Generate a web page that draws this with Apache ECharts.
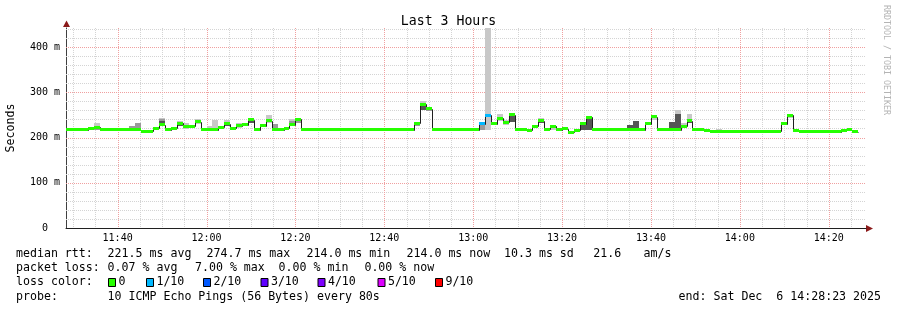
<!DOCTYPE html>
<html><head><meta charset="utf-8">
<script src="https://cdn.jsdelivr.net/npm/echarts@6/dist/echarts.min.js"></script>
<style>html,body{margin:0;padding:0;background:#fff}#c{width:897px;height:310px}</style>
</head><body><div id="c"></div>
<script>
// ---------------- data ----------------
const titleText = 'Last 3 Hours';
const yAxisName = 'Seconds';
const axisStart = '11:28:23';
const axisEnd = '14:28:23';
const xTickLabels = ['11:40','12:00','12:20','12:40','13:00','13:20','13:40','14:00','14:20'];
const yTickValues = [0, 100, 200, 300, 400];
const yMaxMs = 442;
const stepStart = '11:28:00';
const stepSeconds = 80;
const medianMs = [
  217,217,217,217,220,223,217,217,217,217,
  217,217,217,214,214,220,228,217,221,232,
  225,225,235,217,217,217,223,230,220,226,
  228,239,217,226,237,217,217,220,228,240,
  217,217,217,217,217,217,217,217,217,217,
  217,217,217,217,217,217,217,217,217,232,
  274,263,217,217,217,217,217,217,217,217,
  230,249,230,243,234,250,217,217,216,225,
  237,218,225,217,219,212,216,230,245,217,
  217,217,217,217,217,218,217,217,230,246,
  217,217,217,217,225,237,217,217,216,214,
  214,214,214,214,214,214,214,214,214,214,
  214,230,249,216,213,213,213,213,213,213,
  213,216,217,213
];
const lossSteps = [70, 71];
const lossTenths = [1, 1];
// smoke bands: [step index, low ms, high ms]
const smokeLight = [
  [4,217,223],[5,217,231],[15,217,224],[16,236,244],[19,232,237],[20,219,231],[22,229,240],
  [24,217,225],[25,217,239],[27,225,238],[29,220,232],[31,232,244],[34,232,249],[38,232,241],
  [39,233,242],[60,270,280],[71,217,441],[73,236,251],[74,228,238],[80,236,244],[82,217,227],
  [84,217,224],[99,238,249],[103,245,261],[104,220,232],[105,240,251],[110,214,218],[122,244,252]
];
const smokeMid = [
  [5,217,226],[11,217,225],[12,217,233],[16,230,240],[20,221,228],[35,217,230],[38,228,236],
  [39,233,240],[59,226,234],[61,258,266],[70,217,232],[74,229,236]
];
const smokeDark = [
  [16,230,236],[19,226,232],[27,226,232],[31,233,239],[60,260,270],[61,260,264],[71,245,253],
  [75,235,252],[79,222,227],[80,232,238],[87,217,230],[88,217,246],[95,217,228],[96,217,237],
  [102,217,235],[103,217,253],[104,222,228],[105,232,240]
];
const lossLegendLabels = ['0','1/10','2/10','3/10','4/10','5/10','9/10'];
const lossColors = ['#26ff00','#00b8ff','#0059ff','#5e00ff','#7e00ff','#dd00ff','#ff0000'];
const lossColorTenths = [0,1,2,3,4,5,9];
const rttRow = ['median rtt:','221.5 ms avg','274.7 ms max','214.0 ms min','214.0 ms now','10.3 ms sd','21.6','am/s'];
const lossRow = ['packet loss:','0.07 % avg','7.00 % max','0.00 % min','0.00 % now'];
const lossColorTitle = 'loss color:';
const probeRow = ['probe:','10 ICMP Echo Pings (56 Bytes) every 80s'];
const endText = 'end: Sat Dec  6 14:28:23 2025';
const watermark = 'RRDTOOL / TOBI OETIKER';

// ---------------- helpers ----------------
function toSec(s){const p=s.split(':').map(Number);return p[0]*3600+p[1]*60+(p[2]||0);}
function fmtHM(v){const h=Math.floor(v/3600),m=Math.round((v%3600)/60);return String(h).padStart(2,'0')+':'+String(m).padStart(2,'0');}
const xMin = toSec(axisStart), xMax = toSec(axisEnd);
const t0 = toSec(stepStart);
const majorX = xTickLabels.map(toSec);
const minorX = [];
for (let v = Math.ceil(xMin/300)*300; v < xMax; v += 300) if (majorX.indexOf(v) < 0) minorX.push(v);
const minorY = [];
for (let v = 20; v < yMaxMs; v += 20) if (yTickValues.indexOf(v) < 0) minorY.push(v);
const majorY = yTickValues.filter(v => v > 0);

function lossOf(i){const k=lossSteps.indexOf(i);return k<0?0:lossTenths[k];}
function colorOfLoss(l){const k=lossColorTenths.indexOf(l);return lossColors[k<0?lossColors.length-1:k];}
const stepItems = medianMs.map((v,i)=>[t0+i*stepSeconds, v, i>0?medianMs[i-1]:v, lossOf(i)]);
function smokeItems(arr){return arr.map(a=>[t0+a[0]*stepSeconds, a[1], a[2]]);}

const FONT = 'DejaVu Sans Mono';
const crisp = v => Math.round(v) + 0.5;

function vGrid(color){
  return function(params, api){
    const a = api.coord([api.value(0), 0]), b = api.coord([api.value(0), yMaxMs]);
    const x = crisp(a[0]);
    return {type:'line', shape:{x1:x,y1:Math.round(b[1]),x2:x,y2:Math.round(a[1])}, style:{stroke:color,lineWidth:1,lineDash:[1,1]}};
  };
}
function hGrid(color){
  return function(params, api){
    const a = api.coord([xMin, api.value(1)]), b = api.coord([xMax, api.value(1)]);
    const y = crisp(a[1]);
    return {type:'line', shape:{x1:Math.round(a[0]),y1:y,x2:Math.round(b[0]),y2:y}, style:{stroke:color,lineWidth:1,lineDash:[1,1]}};
  };
}
function smokeRender(color){
  return function(params, api){
    const t = api.value(0);
    const a = api.coord([t, api.value(2)]), b = api.coord([t+stepSeconds, api.value(1)]);
    const x1 = Math.round(a[0]), x2 = Math.round(b[0]);
    const y1 = Math.round(a[1]), y2 = Math.round(b[1]);
    return {type:'rect', shape:{x:x1,y:y1,width:x2-x1,height:Math.max(1,y2-y1)}, style:{fill:color}};
  };
}

const grid = {left:66, top:28, width:800, height:200, containLabel:false, outerBoundsMode:'none'};

const series = [
  {type:'custom', name:'gridMinorX', z:1, silent:true, clip:true, data:minorX.map(v=>[v,0]), renderItem:vGrid('#d4d4d4')},
  {type:'custom', name:'gridMinorY', z:1, silent:true, clip:false, data:minorY.map(v=>[xMin,v]), renderItem:hGrid('#d4d4d4')},
  {type:'custom', name:'gridMajorX', z:1, silent:true, clip:true, data:majorX.map(v=>[v,0]), renderItem:vGrid('#f0a0a0')},
  {type:'custom', name:'gridMajorY', z:1, silent:true, clip:false, data:majorY.map(v=>[xMin,v]), renderItem:hGrid('#f0a0a0')},
  {type:'custom', name:'smokeLight', z:2, silent:true, clip:true, data:smokeItems(smokeLight), renderItem:smokeRender('#c8c8c8')},
  {type:'custom', name:'smokeMid', z:3, silent:true, clip:true, data:smokeItems(smokeMid), renderItem:smokeRender('#9a9a9a')},
  {type:'custom', name:'smokeDark', z:4, silent:true, clip:true, data:smokeItems(smokeDark), renderItem:smokeRender('#555555')},
  {type:'custom', name:'median', z:5, silent:true, clip:true, data:stepItems, renderItem:function(params, api){
    const t = api.value(0), v = api.value(1), pv = api.value(2);
    const a = api.coord([t, pv]), b = api.coord([t, v]), c = api.coord([t+stepSeconds, v]);
    const X = crisp(a[0]), X2 = crisp(c[0]);
    return {type:'polyline', shape:{points:[[X,crisp(a[1])],[X,crisp(b[1])],[X2,crisp(b[1])]]}, style:{stroke:'#202020',lineWidth:1,fill:null}};
  }},
  {type:'custom', name:'loss', z:6, silent:true, clip:true, data:stepItems, renderItem:function(params, api){
    const t = api.value(0), v = api.value(1), l = api.value(3);
    const b = api.coord([t, v]), c = api.coord([t+stepSeconds, v]);
    const x1 = Math.round(b[0]), x2 = Math.round(c[0]);
    return {type:'rect', shape:{x:x1, y:Math.round(b[1]-1.5), width:x2-x1, height:3}, style:{fill:colorOfLoss(l)}};
  }}
];

// ---------------- legend graphics ----------------
const graphic = [];
function txt(x, y, s, size, color, extra){
  const o = {type:'text', x:x, y:y, silent:true, style:Object.assign({text:s, fontSize:size, fontFamily:FONT, fill:color||'#000',
    textAlign:'left', textVerticalAlign:'middle', align:'left', verticalAlign:'middle'}, extra||{})};
  graphic.push(o); return o;
}
const rttX = [16, 107.6, 206.5, 306.5, 406.5, 504, 593.2, 643.6];
rttRow.forEach((s,i)=>txt(rttX[i], 254, s, 11.6));
const lossX = [16, 107.6, 195, 278.6, 364.4];
lossRow.forEach((s,i)=>txt(lossX[i], 268, s, 11.6));
txt(16, 282, lossColorTitle, 11.6);
const boxX = [108, 146, 203, 260.5, 317.5, 377.5, 435];
lossLegendLabels.forEach((s,i)=>{
  graphic.push({type:'rect', silent:true, shape:{x:boxX[i]+0.5, y:278.5, width:7, height:8}, style:{fill:lossColors[i], stroke:'#000', lineWidth:1}});
  txt(boxX[i]+10.4, 282, s, 11.6);
});
txt(16, 296.5, probeRow[0], 11.6);
txt(107.6, 296.5, probeRow[1], 11.6);
txt(881, 296.5, endText, 11.6, '#000', {textAlign:'right', align:'right'});
const wm = txt(886, 5, watermark, 8.3, '#b4b4b4');
wm.rotation = -Math.PI/2;
// axis arrows
graphic.push({type:'polygon', silent:true, shape:{points:[[866,225],[873,228.5],[866,232]]}, style:{fill:'#8b1a1a'}});
graphic.push({type:'polygon', silent:true, shape:{points:[[63,27],[66.5,20.5],[70,27]]}, style:{fill:'#8b1a1a'}});

const chart = echarts.init(document.getElementById('c'), null, {renderer:'canvas'});
chart.setOption({
  animation:false,
  backgroundColor:'#ffffff',
  title:{text:titleText, left:'center', top:10, textStyle:{fontFamily:FONT, fontSize:13.2, fontWeight:'normal', color:'#000'}},
  grid:grid,
  xAxis:{type:'value', min:xMin, max:xMax,
    axisLine:{show:true, onZero:false, lineStyle:{color:'#202020', width:1}},
    axisTick:{show:false},
    splitLine:{show:false},
    axisLabel:{customValues:majorX, formatter:fmtHM, fontFamily:FONT, fontSize:10, color:'#000', margin:5}
  },
  yAxis:{type:'value', min:0, max:yMaxMs, name:yAxisName, nameLocation:'middle', nameGap:49, nameRotate:90,
    nameTextStyle:{fontFamily:FONT, fontSize:11.6, color:'#000'},
    axisLine:{show:true, lineStyle:{color:'#404040', width:1}},
    axisTick:{show:false},
    splitLine:{show:false},
    axisLabel:{customValues:yTickValues, formatter:v=>v===0?'0  ':v+' m', fontFamily:FONT, fontSize:10, color:'#000', margin:6}
  },
  series:series,
  graphic:graphic
});
</script></body></html>
